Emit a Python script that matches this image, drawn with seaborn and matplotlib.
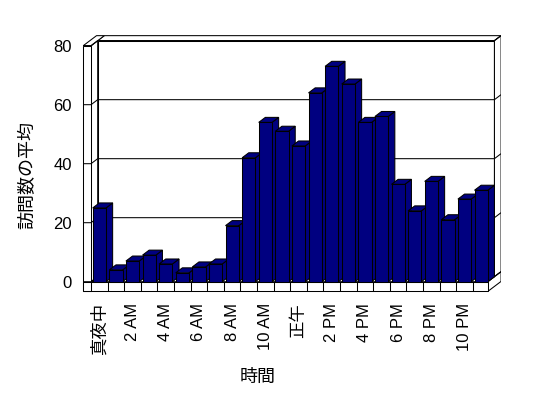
import matplotlib
matplotlib.use('Agg')
import matplotlib.pyplot as plt
import seaborn as sns
import pandas as pd
from matplotlib.patches import Polygon, Rectangle

# ---- data ----
hours = [f'{h}時' for h in range(24)]
visits = [25, 4, 7, 9, 6, 3, 5, 6, 19, 42, 54, 51,
          46, 64, 73, 67, 54, 56, 33, 24, 34, 21, 28, 31]
tick_labels = ['真夜中', '2 AM', '4 AM', '6 AM', '8 AM', '10 AM',
               '正午', '2 PM', '4 PM', '6 PM', '8 PM', '10 PM']
y_ticks = [0, 20, 40, 60, 80]
x_title = '時間'
y_title = '訪問数の平均'

sns.set_theme(style='white')
plt.rcParams['font.family'] = ['Liberation Sans', 'Noto Sans CJK JP']

df = pd.DataFrame({'hour': hours, 'visits': visits})

fig = plt.figure(figsize=(5.48, 3.98), dpi=100)
fig.patch.set_facecolor('white')
ax = fig.add_axes([0.14495, 0.26256, 0.7694, 0.6523])

NAVY = '#000080'
LW = 0.75
sns.barplot(data=df, x='hour', y='visits', color=NAVY, saturation=1,
            width=0.8, edgecolor='black', linewidth=LW, ax=ax, zorder=3)

ax.set_xlim(-1.2, 24.2)
ax.set_ylim(-4, 84)

# 3D geometry (in data units)
DX, DY = 0.40, 1.70
XL, X0, X1 = -0.97, -0.5, 23.4
FB = -3.3
YT = y_ticks[-1]

def poly(pts, z, fc='white'):
    ax.add_patch(Polygon(pts, closed=True, facecolor=fc, edgecolor='black',
                         linewidth=LW, zorder=z, joinstyle='miter'))

# back wall front face
poly([(X0 + DX, DY), (X1 + DX, DY), (X1 + DX, YT + DY), (X0 + DX, YT + DY)], 0.5)
# back wall top face
poly([(X0 + DX, YT + DY), (X1 + DX, YT + DY), (X1 + 2 * DX, YT + 2 * DY), (X0 + 2 * DX, YT + 2 * DY)], 0.5)
# back wall right face
poly([(X1 + DX, DY), (X1 + 2 * DX, 2 * DY), (X1 + 2 * DX, YT + 2 * DY), (X1 + DX, YT + DY)], 0.5)
# floor right face
poly([(X1, FB), (X1 + 2 * DX, FB + 2 * DY), (X1 + 2 * DX, 2 * DY), (X1, 0)], 0.6)
# floor top face
poly([(X0, 0), (X1, 0), (X1 + DX, DY), (X0 + DX, DY)], 0.6)
# left wall right face
poly([(X0, 0), (X0 + DX, DY), (X0 + DX, YT + DY), (X0, YT)], 0.6)
# left wall top face
poly([(XL, YT), (X0, YT), (X0 + 2 * DX, YT + 2 * DY), (XL + 2 * DX, YT + 2 * DY)], 0.6)
# left wall front face
poly([(XL, FB), (X0, FB), (X0, YT), (XL, YT)], 0.7)
# floor front face
poly([(XL, FB), (X1, FB), (X1, 0), (XL, 0)], 0.7)
for i in range(len(hours)):
    xb = i - 0.5
    ax.plot([xb, xb], [FB, 0], color='black', lw=LW, zorder=0.8,
            solid_capstyle='butt')

# grid lines / ticks
for v in y_ticks:
    ax.plot([XL, X0, X0 + DX, X1 + DX, X1 + 2 * DX],
            [v, v, v + DY, v + DY, v + 2 * DY],
            color='black', lw=LW, zorder=0.9, solid_capstyle='butt')

# 3D bars: side and top faces
bars = [pp for pp in ax.patches if isinstance(pp, Rectangle)][:len(visits)]
for i, p in enumerate(bars):
    x, w, h = p.get_x(), p.get_width(), p.get_height()
    base = 3 + i * 0.1
    p.set_zorder(base + 0.05)
    poly([(x + w, 0), (x + w + DX, DY), (x + w + DX, h + DY), (x + w, h)], base, NAVY)
    poly([(x, h), (x + w, h), (x + w + DX, h + DY), (x + DX, h + DY)], base, NAVY)

ax.set_xticks(range(0, 24, 2))
ax.set_xticklabels(tick_labels, rotation=90, fontsize=12)
for t in ax.get_xticklabels():
    if t.get_text() in ('真夜中', '正午'):
        t.set_fontsize(12.5)
ax.set_yticks(y_ticks)
ax.set_yticklabels([str(v) for v in y_ticks], fontsize=12)
ax.tick_params(axis='x', length=0, pad=6.8, colors='black')
ax.tick_params(axis='y', length=0, pad=5.5, colors='black')
for s in ax.spines.values():
    s.set_visible(False)
ax.grid(False)
ax.set_facecolor('white')

ax.set_xlabel(x_title, fontsize=13, color='black')
ax.set_ylabel(y_title, fontsize=13, color='black')
ax.xaxis.set_label_coords(0.4235, -0.3216)
ax.xaxis.label.set_va('center')
ax.yaxis.set_label_coords(-0.122, 0.4565)
ax.yaxis.label.set_va('center')

fig.savefig('out.png', dpi=100, facecolor='white')
